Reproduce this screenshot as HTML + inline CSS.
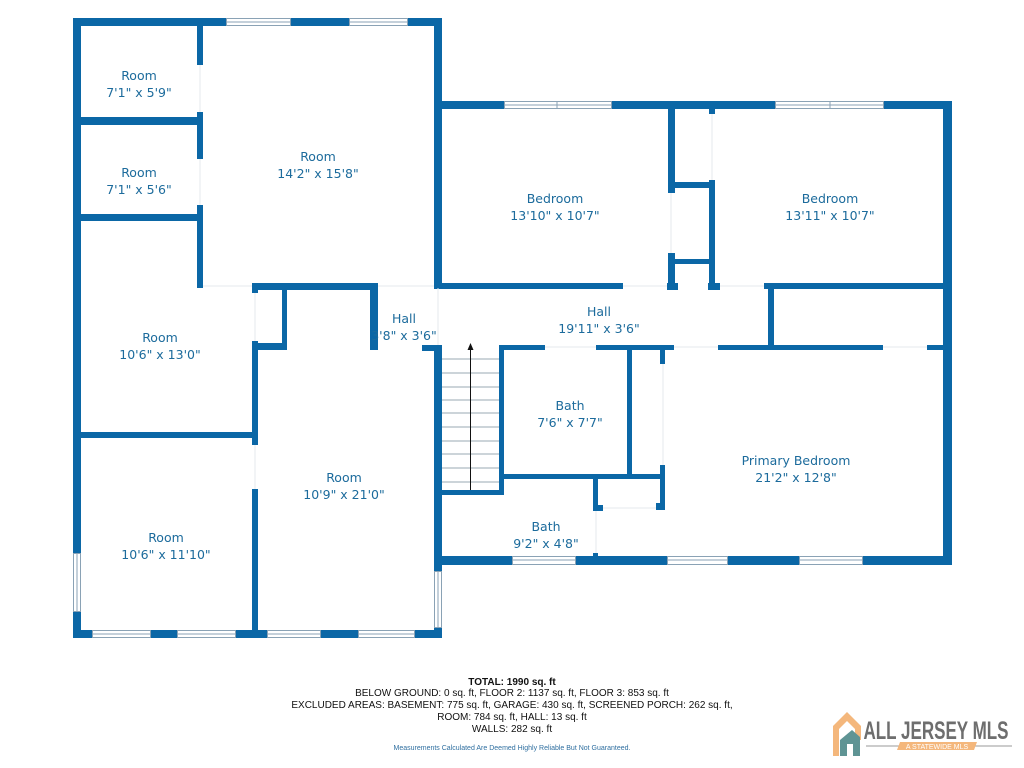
<!DOCTYPE html>
<html><head><meta charset="utf-8"><style>
html,body{margin:0;padding:0;background:#fff;width:1024px;height:768px;overflow:hidden}
svg{display:block}
.t{font-family:"DejaVu Sans","Liberation Sans",sans-serif;font-size:12.5px;fill:#1c6b9c;text-anchor:middle}
.f{font-family:"Liberation Sans",sans-serif;font-size:10px;fill:#111;text-anchor:middle}
</style></head><body>
<svg width="1024" height="768" viewBox="0 0 1024 768" xmlns="http://www.w3.org/2000/svg">
<g fill="#0b67a6">
<!-- left building outer -->
<rect x="73" y="18" width="153" height="8"/>
<rect x="291" y="18" width="58" height="8"/>
<rect x="408" y="18" width="34" height="8"/>
<rect x="73" y="18" width="8" height="535"/>
<rect x="73" y="612" width="8" height="26"/>
<rect x="434" y="18" width="8" height="270"/>
<rect x="434" y="345" width="8" height="226"/>
<rect x="434" y="628" width="8" height="10"/>
<rect x="73" y="630" width="19" height="8"/>
<rect x="151" y="630" width="26" height="8"/>
<rect x="236" y="630" width="31" height="8"/>
<rect x="321" y="630" width="37" height="8"/>
<rect x="415" y="630" width="27" height="8"/>
<!-- left internal -->
<rect x="197" y="18" width="6" height="47"/>
<rect x="197" y="112" width="6" height="47"/>
<rect x="197" y="205" width="6" height="83"/>
<rect x="81" y="117" width="122" height="8"/>
<rect x="81" y="214" width="122" height="7"/>
<rect x="252" y="283" width="126" height="7"/>
<rect x="252" y="283" width="6" height="10"/>
<rect x="252" y="341" width="6" height="104"/>
<rect x="252" y="489" width="6" height="149"/>
<rect x="282" y="283" width="5" height="67"/>
<rect x="252" y="343" width="35" height="7"/>
<rect x="370" y="283" width="8" height="67"/>
<rect x="422" y="345" width="20" height="6"/>
<rect x="81" y="432" width="177" height="6"/>
<!-- right building outer -->
<rect x="434" y="101" width="70" height="8"/>
<rect x="612" y="101" width="163" height="8"/>
<rect x="884" y="101" width="68" height="8"/>
<rect x="943" y="101" width="9" height="464"/>
<rect x="434" y="556" width="78" height="9"/>
<rect x="576" y="556" width="91" height="9"/>
<rect x="728" y="556" width="71" height="9"/>
<rect x="863" y="556" width="89" height="9"/>
<rect x="434" y="565" width="8" height="8"/>
<!-- right internal -->
<rect x="434" y="283" width="189" height="6"/>
<rect x="667" y="283" width="11" height="7"/>
<rect x="708" y="283" width="12" height="7"/>
<rect x="764" y="283" width="188" height="6"/>
<rect x="668" y="109" width="7" height="84"/>
<rect x="668" y="253" width="7" height="35"/>
<rect x="668" y="182" width="47" height="6"/>
<rect x="668" y="259" width="47" height="5"/>
<rect x="709" y="109" width="6" height="5"/>
<rect x="709" y="180" width="6" height="108"/>
<rect x="768" y="283" width="6" height="64"/>
<rect x="434" y="345" width="8" height="5"/>
<rect x="499" y="345" width="46" height="5"/>
<rect x="596" y="345" width="78" height="5"/>
<rect x="718" y="345" width="165" height="5"/>
<rect x="927" y="345" width="25" height="5"/>
<rect x="499" y="345" width="5" height="150"/>
<rect x="434" y="490" width="70" height="5"/>
<rect x="627" y="345" width="5" height="132"/>
<rect x="499" y="474" width="166" height="5"/>
<rect x="660" y="350" width="5" height="14"/>
<rect x="660" y="465" width="5" height="45"/>
<rect x="656" y="503" width="9" height="7"/>
<rect x="593" y="474" width="5" height="37"/>
<rect x="593" y="505" width="10" height="6"/>
<rect x="593" y="553" width="5" height="12"/>
</g>
<!-- windows -->
<g fill="#fff" stroke="#8aa2b5" stroke-width="1">
<rect x="226.5" y="18.5" width="64" height="7"/><rect x="349.5" y="18.5" width="58" height="7"/>
<rect x="73.5" y="553.5" width="7" height="58"/>
<rect x="434.5" y="571.5" width="7" height="56"/>
<rect x="92.5" y="630.5" width="58" height="7"/><rect x="177.5" y="630.5" width="58" height="7"/>
<rect x="267.5" y="630.5" width="53" height="7"/><rect x="358.5" y="630.5" width="56" height="7"/>
<rect x="504.5" y="101.5" width="107" height="7"/><rect x="775.5" y="101.5" width="108" height="7"/>
<rect x="512.5" y="556.5" width="63" height="8"/><rect x="667.5" y="556.5" width="60" height="8"/><rect x="799.5" y="556.5" width="63" height="8"/>
</g>
<g stroke="#8aa2b5" stroke-width="1">
<line x1="227" y1="22" x2="290" y2="22"/><line x1="350" y1="22" x2="407" y2="22"/>
<line x1="77" y1="554" x2="77" y2="611"/><line x1="438" y1="572" x2="438" y2="627"/>
<line x1="93" y1="634" x2="150" y2="634"/><line x1="178" y1="634" x2="235" y2="634"/>
<line x1="268" y1="634" x2="320" y2="634"/><line x1="359" y1="634" x2="414" y2="634"/>
<line x1="505" y1="105" x2="611" y2="105"/><line x1="557" y1="102" x2="557" y2="108"/>
<line x1="776" y1="105" x2="883" y2="105"/><line x1="830" y1="102" x2="830" y2="108"/>
<line x1="513" y1="560" x2="575" y2="560"/><line x1="668" y1="560" x2="727" y2="560"/><line x1="800" y1="560" x2="862" y2="560"/>
</g>
<!-- door openings faint -->
<g stroke="#e4e8ec" stroke-width="1">
<line x1="200" y1="65" x2="200" y2="112"/><line x1="200" y1="159" x2="200" y2="205"/>
<line x1="203" y1="286" x2="252" y2="286"/><line x1="255" y1="293" x2="255" y2="341"/>
<line x1="255" y1="445" x2="255" y2="489"/><line x1="378" y1="286" x2="434" y2="286"/>
<line x1="438" y1="288" x2="438" y2="345"/><line x1="623" y1="286" x2="667" y2="286"/>
<line x1="720" y1="286" x2="764" y2="286"/><line x1="545" y1="347" x2="596" y2="347"/>
<line x1="674" y1="347" x2="718" y2="347"/><line x1="883" y1="347" x2="927" y2="347"/>
<line x1="663" y1="364" x2="663" y2="465"/><line x1="712" y1="114" x2="712" y2="180"/>
<line x1="671" y1="193" x2="671" y2="253"/><line x1="596" y1="511" x2="596" y2="553"/>
<line x1="603" y1="508" x2="656" y2="508"/>
</g>
<!-- stairs -->
<g stroke="#9aa8b3" stroke-width="1">
<line x1="442" y1="359" x2="499" y2="359"/><line x1="442" y1="373" x2="499" y2="373"/>
<line x1="442" y1="387" x2="499" y2="387"/><line x1="442" y1="400" x2="499" y2="400"/>
<line x1="442" y1="413" x2="499" y2="413"/><line x1="442" y1="427" x2="499" y2="427"/>
<line x1="442" y1="441" x2="499" y2="441"/><line x1="442" y1="454" x2="499" y2="454"/>
<line x1="442" y1="468" x2="499" y2="468"/><line x1="442" y1="482" x2="499" y2="482"/>
</g>
<line x1="470.5" y1="349" x2="470.5" y2="490" stroke="#111" stroke-width="1"/>
<polygon points="470.5,343 467.5,350 473.5,350" fill="#111"/>
<!-- labels -->
<g class="t">
<text x="139" y="80" class="t">Room</text><text x="139" y="97" class="t">7'1" x 5'9"</text>
<text x="139" y="177" class="t">Room</text><text x="139" y="194" class="t">7'1" x 5'6"</text>
<text x="318" y="161" class="t">Room</text><text x="318" y="178" class="t">14'2" x 15'8"</text>
<text x="160" y="342" class="t">Room</text><text x="160" y="359" class="t">10'6" x 13'0"</text>
<text x="404" y="323" class="t">Hall</text><text x="404" y="340" class="t">3'8" x 3'6"</text>
<text x="344" y="482" class="t">Room</text><text x="344" y="499" class="t">10'9" x 21'0"</text>
<text x="166" y="542" class="t">Room</text><text x="166" y="559" class="t">10'6" x 11'10"</text>
<text x="555" y="203" class="t">Bedroom</text><text x="555" y="220" class="t">13'10" x 10'7"</text>
<text x="830" y="203" class="t">Bedroom</text><text x="830" y="220" class="t">13'11" x 10'7"</text>
<text x="599" y="316" class="t">Hall</text><text x="599" y="333" class="t">19'11" x 3'6"</text>
<text x="570" y="410" class="t">Bath</text><text x="570" y="427" class="t">7'6" x 7'7"</text>
<text x="796" y="465" class="t">Primary Bedroom</text><text x="796" y="482" class="t">21'2" x 12'8"</text>
<text x="546" y="531" class="t">Bath</text><text x="546" y="548" class="t">9'2" x 4'8"</text>
</g>
<!-- footer -->
<text x="512" y="685" class="f" font-weight="bold">TOTAL: 1990 sq. ft</text>
<text x="512" y="696" class="f">BELOW GROUND: 0 sq. ft, FLOOR 2: 1137 sq. ft, FLOOR 3: 853 sq. ft</text>
<text x="512" y="708" class="f">EXCLUDED AREAS: BASEMENT: 775 sq. ft, GARAGE: 430 sq. ft, SCREENED PORCH: 262 sq. ft,</text>
<text x="512" y="720" class="f">ROOM: 784 sq. ft, HALL: 13 sq. ft</text>
<text x="512" y="732" class="f">WALLS: 282 sq. ft</text>
<text x="512" y="750" class="f" style="font-size:7px;fill:#2f6fa0">Measurements Calculated Are Deemed Highly Reliable But Not Guaranteed.</text>
<!-- logo -->
<polygon points="833,726 847,712 861,726 861,740 855,740 855,729 847,721 839,729 839,756 833,756" fill="#f4b77c"/>
<polygon points="840,740 852,730 860,737 860,756 853,756 853,744 847,744 847,756 840,756" fill="#5f9494"/>
<text x="936" y="739" style="font-family:'Liberation Sans',sans-serif;font-weight:bold;font-size:25px;fill:#6e6e6e;text-anchor:middle" textLength="145" lengthAdjust="spacingAndGlyphs">ALL JERSEY MLS</text>
<line x1="866" y1="746" x2="1012" y2="746" stroke="#999" stroke-width="1"/>
<polygon points="900,742 977,742 974,750 897,750" fill="#f4b77c"/>
<text x="937" y="749" style="font-family:'Liberation Sans',sans-serif;font-size:7px;fill:#fff;text-anchor:middle">A STATEWIDE MLS</text>
</svg>
</body></html>
